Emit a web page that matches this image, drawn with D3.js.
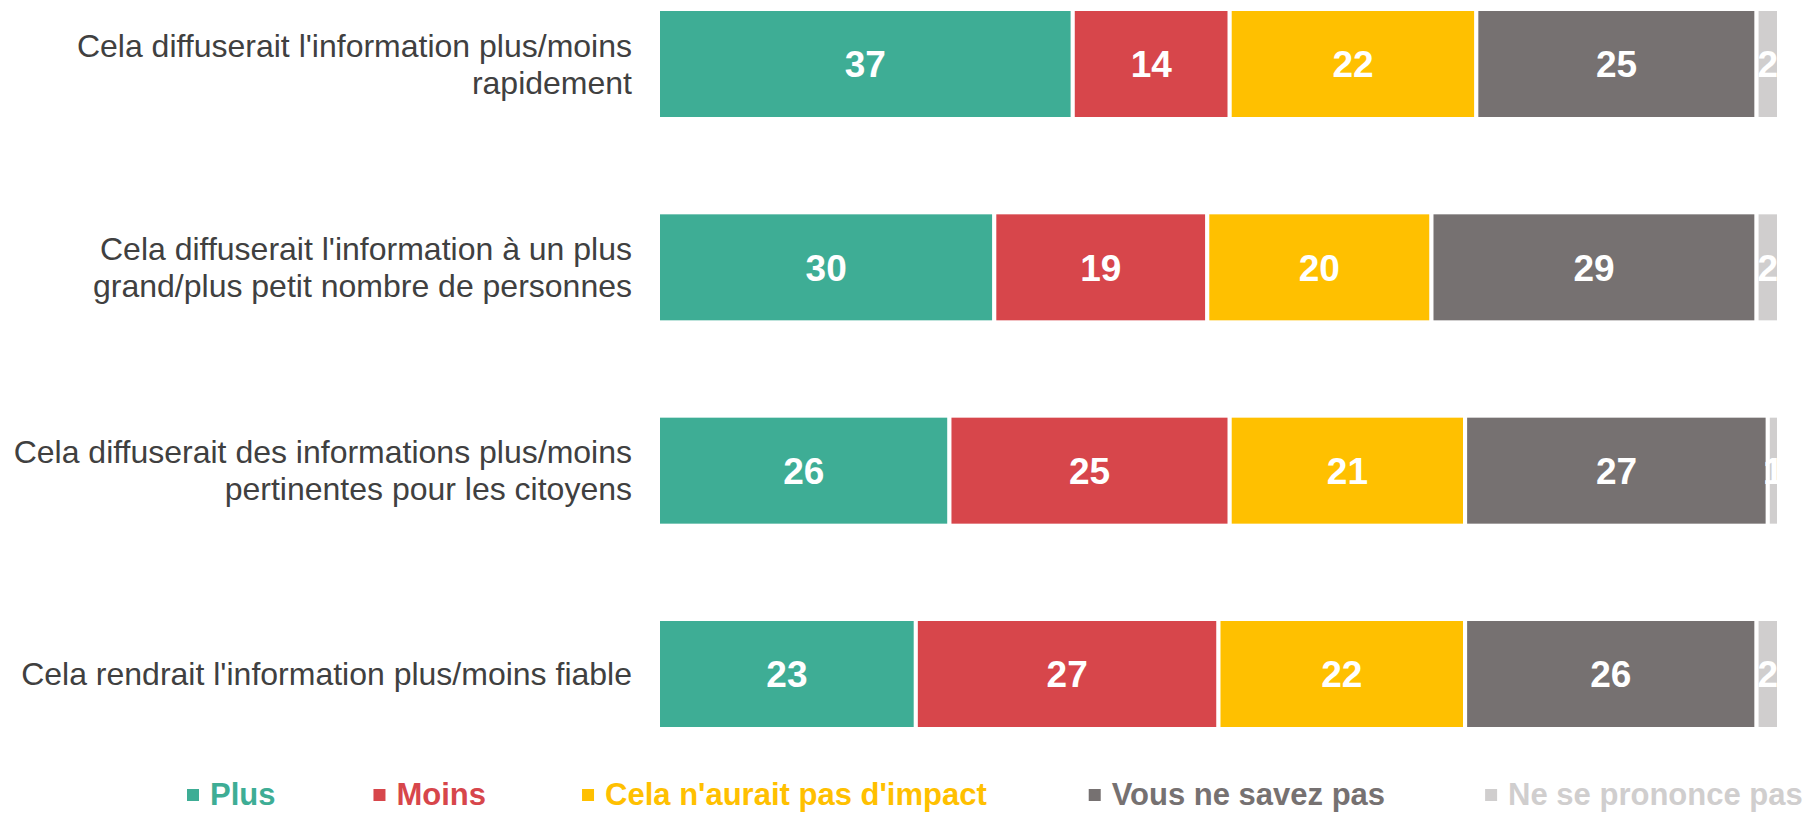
<!DOCTYPE html>
<html lang="fr">
<head>
<meta charset="utf-8">
<script src="https://cdn.jsdelivr.net/npm/d3@7"></script>
<style>
  html, body { margin: 0; padding: 0; background: #ffffff; }
  svg { display: block; }
  text { font-family: "Liberation Sans", Arial, sans-serif; }
</style>
</head>
<body>
<svg id="chart" width="1816" height="813"></svg>
<script>
// Questions (line breaks as displayed)
const categories = [
  "Cela diffuserait l'information plus/moins\nrapidement",
  "Cela diffuserait l'information à un plus\ngrand/plus petit nombre de personnes",
  "Cela diffuserait des informations plus/moins\npertinentes pour les citoyens",
  "Cela rendrait l'information plus/moins fiable"
];

// Answer options
const seriesNames = ["Plus", "Moins", "Cela n'aurait pas d'impact", "Vous ne savez pas", "Ne se prononce pas"];
const seriesColors = ["#3EAD95", "#D7464B", "#FFC000", "#767171", "#D0CECE"];

// Percentages per question, one array per answer option
const plusValues = [37, 30, 26, 23];
const moinsValues = [14, 19, 25, 27];
const pasImpactValues = [22, 20, 21, 22];
const neSaitPasValues = [25, 29, 27, 26];
const nspValues = [2, 2, 1, 2];

const seriesValues = [plusValues, moinsValues, pasImpactValues, neSaitPasValues, nspValues];

// Build rows for stacking
const rows = categories.map((c, i) => {
  const r = { category: c };
  seriesNames.forEach((s, j) => { r[s] = seriesValues[j][i]; });
  return r;
});

const stack = d3.stack().keys(seriesNames);
const stacked = stack(rows);

const svg = d3.select("#chart");

const x = d3.scaleLinear().domain([0, 100]).range([658, 1779]);
const y = d3.scaleBand()
  .domain(categories)
  .range([9, 729])
  .paddingInner(0.459)
  .paddingOuter(0);

const color = d3.scaleOrdinal().domain(seriesNames).range(seriesColors);

// Stacked segments
const layers = svg.append("g").attr("class", "bars")
  .selectAll("g")
  .data(stacked)
  .join("g")
  .attr("fill", d => color(d.key));

layers.selectAll("rect")
  .data(d => d.map(p => ({ key: d.key, p })))
  .join("rect")
  .attr("x", d => x(d.p[0]))
  .attr("y", d => y(d.p.data.category))
  .attr("width", d => x(d.p[1]) - x(d.p[0]))
  .attr("height", y.bandwidth())
  .attr("stroke", "#ffffff")
  .attr("stroke-width", 4);

// Value labels
const labels = svg.append("g").attr("class", "values");
stacked.forEach(layer => {
  labels.selectAll(null)
    .data(layer)
    .join("text")
    .attr("x", p => (x(p[0]) + x(p[1])) / 2)
    .attr("y", p => y(p.data.category) + y.bandwidth() / 2)
    .attr("dy", "0.36em")
    .attr("text-anchor", "middle")
    .attr("font-size", 37)
    .attr("font-weight", "bold")
    .attr("fill", "#ffffff")
    .text(p => p[1] - p[0]);
});

// Category labels (right-aligned, vertically centred on each bar)
const lineHeight = 37;
const catG = svg.append("g").attr("class", "categories");
categories.forEach(c => {
  const lines = c.split("\n");
  const cy = y(c) + y.bandwidth() / 2;
  const t = catG.append("text")
    .attr("text-anchor", "end")
    .attr("font-size", 32)
    .attr("fill", "#404040");
  lines.forEach((ln, i) => {
    t.append("tspan")
      .attr("x", 632)
      .attr("y", cy + (i - (lines.length - 1) / 2) * lineHeight)
      .attr("dy", "0.35em")
      .text(ln);
  });
});

// Legend
const legend = svg.append("g").attr("class", "legend");
let lx = 187;
const legendBaseline = 805;
const legendGaps = [98, 96, 102, 100];
seriesNames.forEach((s, i) => {
  legend.append("rect")
    .attr("x", lx)
    .attr("y", legendBaseline - 16)
    .attr("width", 12)
    .attr("height", 12)
    .attr("fill", seriesColors[i]);
  const t = legend.append("text")
    .attr("x", lx + 23)
    .attr("y", legendBaseline)
    .attr("font-size", 31)
    .attr("font-weight", "bold")
    .attr("fill", seriesColors[i])
    .text(s);
  lx = lx + 23 + t.node().getComputedTextLength() + (legendGaps[i] || 100);
});
</script>
</body>
</html>
